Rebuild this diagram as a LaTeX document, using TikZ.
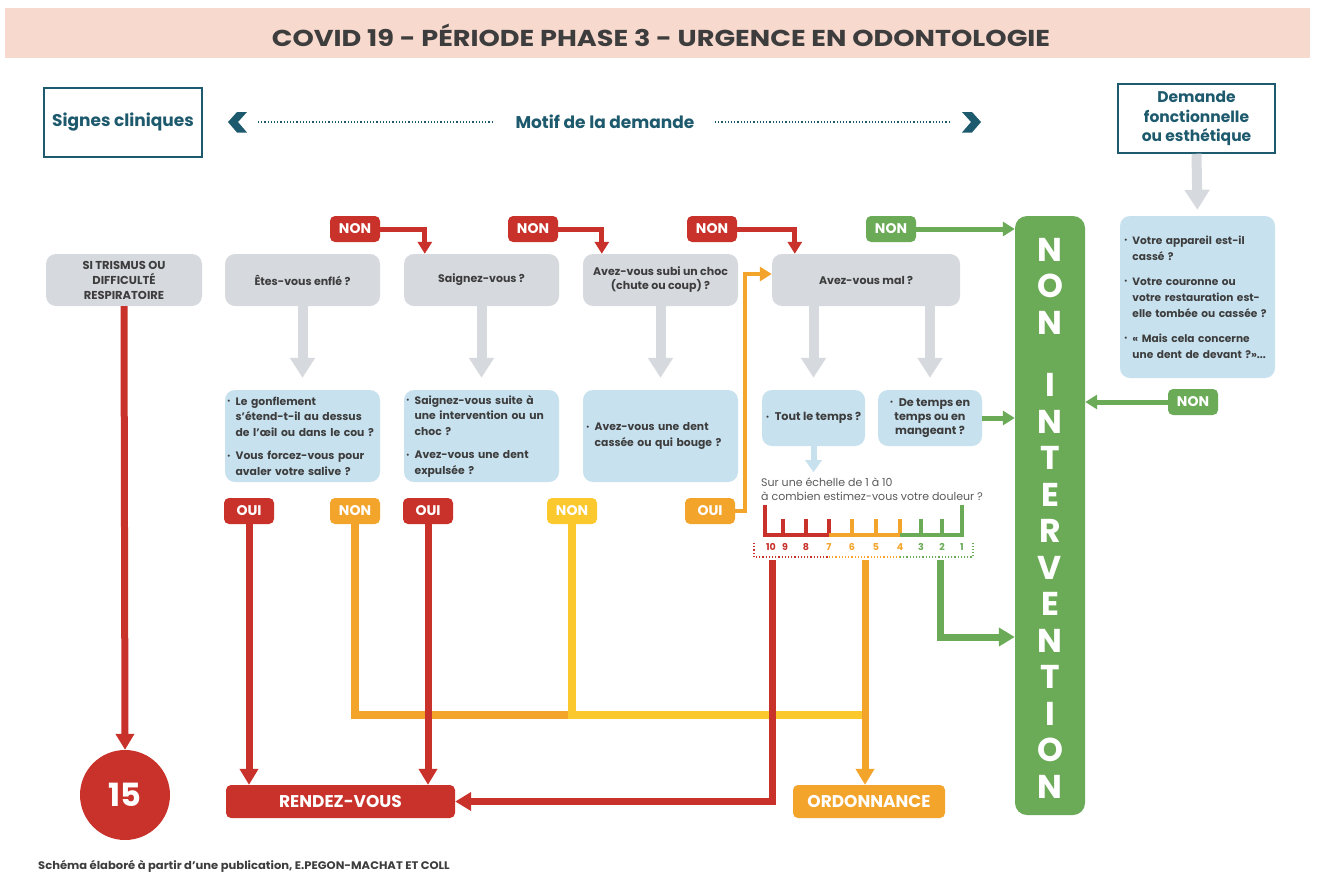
\documentclass[tikz,border=0pt]{standalone}
\usepackage{fontspec}
\setmainfont{Poppins}
\usetikzlibrary{arrows.meta,calc}
\definecolor{cred}{HTML}{C8322B}
\definecolor{corange}{HTML}{F3A42B}
\definecolor{cyellow}{HTML}{FBC82D}
\definecolor{cgreen}{HTML}{6BAA57}
\definecolor{cgray}{HTML}{D6DADE}
\definecolor{cblue}{HTML}{C7E1EF}
\definecolor{cteal}{HTML}{1E5A6D}
\definecolor{ctext}{HTML}{3D3D3D}
\definecolor{cband}{HTML}{F7D9CD}
\newcommand{\bu}{\makebox[0.8em][l]{\raisebox{0.25ex}{\fontsize{7}{7}\selectfont\textbullet}}}
\newcommand{\bi}{\hspace*{0.8em}}
\begin{document}
\begin{tikzpicture}[x=1pt,y=-1pt,
  every node/.style={inner sep=0pt},
  hdrbox/.style={draw=cteal, line width=1.5pt, text=cteal, align=center, font=\bfseries\fontsize{15.5}{19.5}\selectfont},
  graybox/.style={fill=cgray, rounded corners=10pt, minimum height=52pt, align=center, text=ctext, font=\bfseries\fontsize{11}{14}\selectfont},
  bluebox/.style={fill=cblue, rounded corners=10pt, align=left, text=ctext, font=\bfseries\fontsize{10.8}{15.5}\selectfont},
  tag/.style={rounded corners=5pt, minimum width=50pt, minimum height=26pt, text=white, font=\bfseries\fontsize{14}{16}\selectfont},
  endbox/.style={rounded corners=5pt, minimum height=33pt, text=white, font=\bfseries\fontsize{17}{19}\selectfont},
  grayarr/.style={draw=cgray, line width=10pt, -{Triangle[width=24pt,length=20pt]}},
  nonarr/.style={draw=#1, line width=5pt, line join=miter, -{Triangle[width=14pt,length=12pt]}},
  flow/.style={draw=#1, line width=7pt, line join=miter, -{Triangle[width=18pt,length=16pt]}},
  flowline/.style={draw=#1, line width=7pt, line join=miter}
]
\useasboundingbox (0,0) rectangle (1317,873);
\fill[white] (0,0) rectangle (1317,873);

% header
\node[fill=cband, minimum width=1305pt, minimum height=50pt] (band) at (657.5,33) {};
\node[text=ctext, font=\bfseries\fontsize{23}{26}\selectfont] (title) at (661,35) {\scalebox{1.18}[1]{COVID 19 - PÉRIODE PHASE 3 - URGENCE EN ODONTOLOGIE}};

% top row
\node[hdrbox, font=\bfseries\fontsize{17}{20}\selectfont, minimum width=158pt, minimum height=69pt] (sc) at (123,122.5) {Signes cliniques};
\node[hdrbox, minimum width=157pt, minimum height=69pt] (dfe) at (1196.5,118.5) {Demande\\fonctionnelle\\ou esthétique};
\node[text=cteal, font=\bfseries\fontsize{17}{19}\selectfont] (motif) at (605,122) {Motif de la demande};
\fill[cteal] (247,112) -- (237,112) -- (228,122) -- (237,132.5) -- (247,132.5) -- (238,122) -- cycle;
\fill[cteal] (962,112) -- (972,112) -- (981,122) -- (972,132.5) -- (962,132.5) -- (971,122) -- cycle;
\coordinate (dl) at (258,122);
\coordinate (dr) at (950,122);
\draw[cteal, dotted, line width=1.2pt] (dl) -- (492,122);
\draw[cteal, dotted, line width=1.2pt] (715,122) -- (dr);

% question boxes
\node[graybox, minimum width=156pt, font=\bfseries\fontsize{11.5}{15}\selectfont] (q1) at (124,280) {SI TRISMUS OU\\DIFFICULTÉ\\RESPIRATOIRE};
\node[graybox, minimum width=155pt] (q2) at (302.5,280) {Êtes-vous enflé ?};
\node[graybox, minimum width=155pt] (q3) at (481.5,280) {Saignez-vous ?};
\node[graybox, minimum width=155pt] (q4) at (660.5,280) {Avez-vous subi un choc\\(chute ou coup) ?};
\node[graybox, minimum width=188pt] (q5) at (866,280) {Avez-vous mal ?};

% NON tags top
\node[tag, fill=cred] (n1) at (355,229) {NON};
\node[tag, fill=cred] (n2) at (533,229) {NON};
\node[tag, fill=cred] (n3) at (712,229) {NON};
\node[tag, fill=cgreen] (n4) at (891,229) {NON};

% big green box
\node[fill=cgreen, rounded corners=12pt, minimum width=70pt, minimum height=599pt] (ni) at (1050,515.5) {};
\node[text=white, align=center, font=\bfseries\fontsize{33}{36.5}\selectfont] (nitext) at (1050,518) {N\\O\\N\\[26pt]I\\N\\T\\E\\R\\V\\E\\N\\T\\I\\O\\N};

% right column
\node[bluebox, minimum width=155pt, minimum height=162pt, text width=147pt, inner xsep=4pt, font=\bfseries\fontsize{10.6}{16}\selectfont] (rb) at (1197.5,297) {\bu Votre appareil est-il\\\bi cassé ?\\[9pt]\bu Votre couronne ou\\\bi votre restauration est-\\\bi elle tombée ou cassée ?\\[9pt]\bu « Mais cela concerne\\\bi une dent de devant ?»...};
\node[tag, fill=cgreen] (n5) at (1193,402) {NON};

% blue boxes
\node[bluebox, minimum width=155pt, minimum height=92pt, text width=151pt, inner xsep=2pt] (b1) at (302.5,436) {\bu Le gonflement\\\bi s’étend-t-il au dessus\\\bi de l’œil ou dans le cou ?\\[8pt]\bu Vous forcez-vous pour\\\bi avaler votre salive ?};
\node[bluebox, minimum width=155pt, minimum height=92pt, text width=151pt, inner xsep=2pt] (b2) at (481.5,436) {\bu Saignez-vous suite à\\\bi une intervention ou un\\\bi choc ?\\[8pt]\bu Avez-vous une dent\\\bi expulsée ?};
\node[bluebox, minimum width=155pt, minimum height=92pt, text width=149pt, inner xsep=3pt] (b3) at (660.5,436) {\bu Avez-vous une dent\\\bi cassée ou qui bouge ?};
\node[bluebox, minimum width=103pt, minimum height=56pt, align=center, font=\bfseries\fontsize{11.2}{14}\selectfont] (b4) at (813.5,418) {\bu Tout le temps ?};
\node[bluebox, minimum width=104pt, minimum height=56pt, align=center, font=\bfseries\fontsize{11.2}{14}\selectfont] (b5) at (930,418) {\bu De temps en\\temps ou en\\mangeant ?};

% gray arrows
\draw[grayarr, shorten >=12pt] (q2.south) -- (b1.north);
\draw[grayarr, shorten >=12pt] (q3.south) -- (b2.north);
\draw[grayarr, shorten >=12pt] (q4.south) -- (b3.north);
\draw[grayarr, shorten >=12pt] (q5.south -| b4.north) -- (b4.north);
\draw[grayarr, shorten >=12pt] (q5.south -| b5.north) -- (b5.north);
\draw[grayarr, shorten >=6pt] (dfe.south) -- (rb.north);

% NON connectors
\draw[nonarr=cred] (n1.east) -| ([xshift=21pt]q3.north west);
\draw[nonarr=cred] (n2.east) -| ([xshift=19pt]q4.north west);
\draw[nonarr=cred] (n3.east) -| ([xshift=23pt]q5.north west);
\draw[nonarr=cgreen] (n4.east) -- (ni.west |- n4);
\draw[nonarr=cgreen] (b5.east) -- (ni.west |- b5);
\draw[nonarr=cgreen] (n5.west) -- (ni.east |- n5);

% OUI/NON tags second row
\node[tag, fill=cred] (t1) at (249,511) {OUI};
\node[tag, fill=corange] (t2) at (355,511) {NON};
\node[tag, fill=cred] (t3) at (428,511) {OUI};
\node[tag, fill=cyellow] (t4) at (572,511) {NON};
\node[tag, fill=corange] (t5) at (710,511) {OUI};

% outcomes
\node[circle, fill=cred, minimum size=90pt, text=white, font=\bfseries\fontsize{32}{36}\selectfont] (c15) at (125,795) {15};
\node[endbox, fill=cred, minimum width=229pt] (rdv) at (340.5,801.5) {RENDEZ-VOUS};
\node[endbox, fill=corange, minimum width=152pt] (ord) at (869,801.5) {ORDONNANCE};

% pain scale
\draw[draw=cblue, line width=6pt, -{Triangle[width=16pt,length=12pt]}] (b4.south) -- ++(0,26);
\node[anchor=west, align=left, text=ctext!85, font=\fontsize{11}{14}\selectfont] (pain) at (761,489) {Sur une échelle de 1 à 10\\à combien estimez-vous votre douleur ?};
\coordinate (s10) at (772,560);
\coordinate (s5) at (865,560);
\coordinate (s2) at (940,560);
\coordinate (jy) at (572,715);
\coordinate (yo) at (0,274);
\coordinate (g637) at (0,637);
\begin{scope}[line width=4pt, line join=miter]
\draw[cred] (765,505) -- (765,535) -- (829,535);
\draw[cred] (783,519) -- (783,535) (806,519) -- (806,535) (829,519) -- (829,535);
\draw[corange] (829,535) -- (900,535);
\draw[corange] (852,519) -- (852,535) (876,519) -- (876,535) (900,519) -- (900,535);
\draw[cgreen] (900,535) -- (962,535) -- (962,505);
\draw[cgreen] (921,519) -- (921,535) (942,519) -- (942,535);
\end{scope}
\begin{scope}[font=\bfseries\fontsize{9.5}{10}\selectfont]
\node[text=cred] (p10) at (771,547) {10};
\node[text=cred] (p9) at (785,547) {9};
\node[text=cred] (p8) at (806,547) {8};
\node[text=corange] (p7) at (829,547) {7};
\node[text=corange] (p6) at (852,547) {6};
\node[text=corange] (p5) at (876,547) {5};
\node[text=corange] (p4) at (900,547) {4};
\node[text=cgreen] (p3) at (921,547) {3};
\node[text=cgreen] (p2) at (942,547) {2};
\node[text=cgreen] (p1) at (962,547) {1};
\end{scope}
\draw[cred, dotted, line width=1.2pt] (754,543) -- (754,557) -- (829,557);
\draw[corange, dotted, line width=1.2pt] (829,557) -- (900,557);
\draw[cgreen, dotted, line width=1.2pt] (900,557) -- (973,557) -- (973,543);

% flows
\draw[flowline=corange, line width=8pt] (t2.south) |- (jy);
\draw[flowline=cyellow, line width=8pt] (t4.south) |- (s5 |- jy);
\draw[flow=cred] (q1.south) -- (c15.north);
\draw[flow=cred] (t1.south) -- (rdv.north -| t1.south);
\draw[flow=cred] (t3.south) -- (rdv.north -| t3.south);
\draw[flow=cred] (s10) |- (rdv.east);
\draw[flow=corange] (s5) -- (ord.north -| s5);
\draw[flow=cgreen] (s2) |- (ni.west |- g637);
\draw[nonarr=corange, line width=4pt] (t5.east) -- ++(10,0) |- (q5.west |- yo);

% footer
\node[anchor=west, text=ctext, font=\bfseries\fontsize{11}{12}\selectfont] (foot) at (38,866) {\scalebox{1.05}[1]{Schéma élaboré à partir d’une publication, E.PEGON-MACHAT ET COLL}};
\end{tikzpicture}
\end{document}
